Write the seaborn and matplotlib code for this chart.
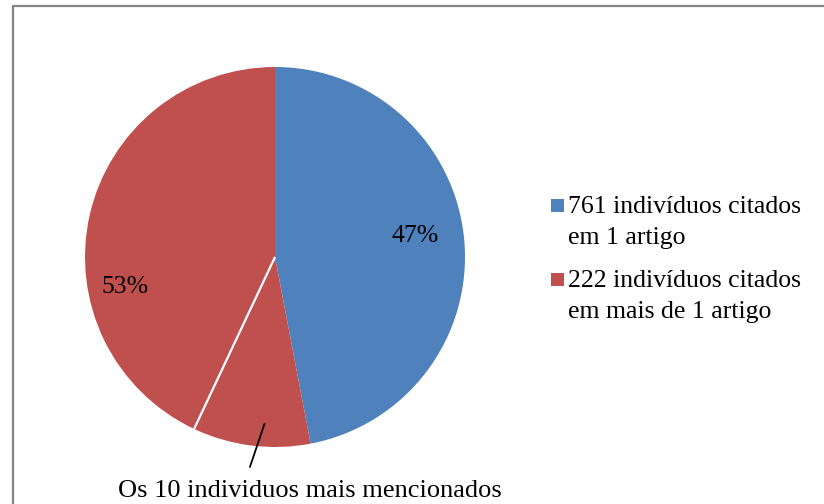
import numpy as np
import matplotlib
matplotlib.use("Agg")
import matplotlib.pyplot as plt
from matplotlib.lines import Line2D
from matplotlib.patches import Rectangle
import seaborn as sns

# data
categories = ["761 indivíduos citados\nem 1 artigo",
              "222 indivíduos citados\nem mais de 1 artigo"]
shares = [47, 53]
top10_share = 10  # part of the red slice held by the 10 most cited
top10_label = "Os 10 individuos mais mencionados"
colors = ["#4F81BD", "#C0504D"]

sns.set_theme(style="white")
plt.rcParams["font.family"] = ["Liberation Serif", "DejaVu Serif"]
FS = 18.5

W, H = 824, 504
fig = plt.figure(figsize=(W / 100, H / 100), dpi=100)
fig.patch.set_facecolor("white")

# chart frame (only top and left edges visible)
frame_kw = dict(transform=fig.transFigure, color="#868686", lw=1.6)
fig.add_artist(Line2D([13 / W, 13 / W], [0, 1 - 5.5 / H], **frame_kw))
fig.add_artist(Line2D([13 / W, 1], [1 - 5.5 / H, 1 - 5.5 / H], **frame_kw))

# pie: centre (275, 257) px, radius 190 px
ax = fig.add_axes([85 / W, 1 - 447 / H, 380 / W, 380 / H])
wedge_vals = [shares[0], top10_share, shares[1] - top10_share]
wedge_cols = [colors[0], colors[1], colors[1]]
wedges, _ = ax.pie(wedge_vals, colors=wedge_cols, startangle=90,
                   counterclock=False, wedgeprops=dict(linewidth=0))
ax.set_xlim(-1, 1)
ax.set_ylim(-1, 1)
ax.axis("off")

# white separator for the top-10 part of the red slice
sep = np.deg2rad(wedges[1].theta1)
ax.plot([0, np.cos(sep)], [0, np.sin(sep)], color="white", lw=1.6,
        solid_capstyle="butt")


def polar(angle_deg, r):
    a = np.deg2rad(angle_deg)
    return r * np.cos(a), r * np.sin(a)


# percentage labels
blue_mid = (wedges[0].theta1 + wedges[0].theta2) / 2
red_mid = (wedges[2].theta1 + wedges[1].theta2) / 2
for mid, val, r in zip([blue_mid, red_mid], shares, [0.75, 0.8]):
    x, y = polar(mid + 4.5, r)
    ax.text(x, y - 0.02, f"{val}%", ha="center", va="center", fontsize=FS,
            color="black")

# leader line for the top-10 part
start = wedges[1].theta2 - 0.4 * (wedges[1].theta2 - wedges[1].theta1)
x0, y0 = polar(start, 0.88)
ax.plot([x0, -0.132], [y0, -1.105], color="black", lw=1.3, clip_on=False)
ax.text(0.184, -1.232, top10_label, ha="center", va="center",
        fontsize=19, color="black", clip_on=False)

# legend, squares aligned with the first line of each label
tops = [199, 273]
for top, col, lab in zip(tops, colors, categories):
    fig.add_artist(Rectangle((551 / W, 1 - (top + 13) / H), 13 / W, 13 / H,
                             transform=fig.transFigure, color=col, lw=0))
    for i, line in enumerate(lab.split("\n")):
        fig.text(568 / W, 1 - (top + 14 + 31 * i) / H, line,
                 ha="left", va="baseline", fontsize=FS, color="black")

fig.savefig("out.png", dpi=100)
